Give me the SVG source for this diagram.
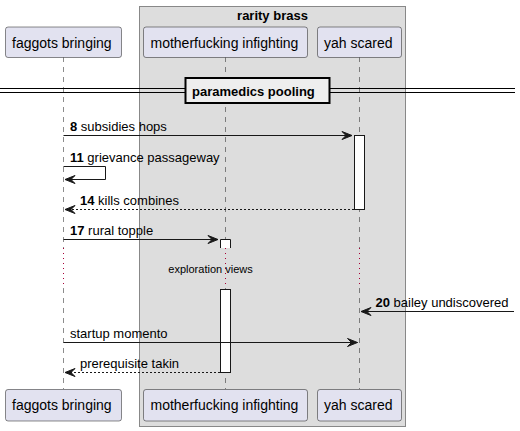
<svg xmlns="http://www.w3.org/2000/svg" width="520" height="431" viewBox="0 0 520 431">
<defs>
<style>
.part{fill:#E2E2F0;stroke:#181818;stroke-width:0.5}
.pt{font-family:"Liberation Sans",Arial,sans-serif;font-size:14px;fill:#000}
.msg{font-family:"Liberation Sans",Arial,sans-serif;font-size:13px;fill:#000}
.b{font-weight:bold}
.ll{stroke:#181818;stroke-width:0.5;stroke-dasharray:5,5;fill:none}
.dl{stroke:#A80036;stroke-width:1;stroke-dasharray:1,4;fill:none}
.ln{stroke:#181818;stroke-width:1;fill:none}
.dash{stroke:#181818;stroke-width:1;stroke-dasharray:2,2;fill:none}
.ah{fill:#181818;stroke:#181818;stroke-width:1}
.act{fill:#FFFFFF;stroke:#181818;stroke-width:1}
</style>
</defs>
<rect width="520" height="431" fill="#FFFFFF"/>
<g id="box-rarity-brass">
<rect x="139.5" y="6.5" width="266" height="420" fill="#DDDDDD" stroke="#888888" stroke-width="1"/>
<text x="272.5" y="19.5" text-anchor="middle" class="msg b">rarity brass</text>
</g>
<g id="lifelines">
<line class="ll" x1="63.5" y1="57" x2="63.5" y2="248"/>
<line class="dl" x1="63.5" y1="248" x2="63.5" y2="288"/>
<line class="ll" x1="63.5" y1="288" x2="63.5" y2="389"/>
<line class="ll" x1="225.5" y1="57" x2="225.5" y2="248"/>
<line class="dl" x1="225.5" y1="248" x2="225.5" y2="288"/>
<line class="ll" x1="225.5" y1="288" x2="225.5" y2="389"/>
<line class="ll" x1="359.5" y1="57" x2="359.5" y2="248"/>
<line class="dl" x1="359.5" y1="248" x2="359.5" y2="288"/>
<line class="ll" x1="359.5" y1="288" x2="359.5" y2="389"/>
</g>
<g id="divider">
<line x1="0" y1="88.5" x2="515" y2="88.5" stroke="#000" stroke-width="1"/>
<line x1="0" y1="92.5" x2="515" y2="92.5" stroke="#000" stroke-width="1"/>
<rect x="185.5" y="78" width="144" height="25" fill="#EEEEEE" stroke="#000" stroke-width="2"/>
<text x="192" y="96" class="msg b">paramedics pooling</text>
</g>
<g id="activations">
<rect class="act" x="354.5" y="135.5" width="10" height="74"/>
<path d="M220.5,248 V239.5 H230.5 V248" class="act"/>
<rect class="act" x="220.5" y="289.5" width="10" height="83"/>
</g>
<g id="p-faggots-bringing">
<rect class="part" x="5.5" y="27" width="116" height="30.5" rx="2.5"/>
<text class="pt" x="12" y="47.5">faggots bringing</text>
<rect class="part" x="5.5" y="389.5" width="116" height="31.5" rx="2.5"/>
<text class="pt" x="12" y="410">faggots bringing</text>
</g>
<g id="p-motherfucking-infighting">
<rect class="part" x="143.5" y="27" width="164" height="30.5" rx="2.5"/>
<text class="pt" x="150.5" y="47.5">motherfucking infighting</text>
<rect class="part" x="143.5" y="389.5" width="164" height="31.5" rx="2.5"/>
<text class="pt" x="150.5" y="410">motherfucking infighting</text>
</g>
<g id="p-yah-scared">
<rect class="part" x="317.5" y="27" width="84" height="30.5" rx="2.5"/>
<text class="pt" x="324" y="47.5">yah scared</text>
<rect class="part" x="317.5" y="389.5" width="84" height="31.5" rx="2.5"/>
<text class="pt" x="324" y="410">yah scared</text>
</g>
<g id="connectors">
<line class="ln" x1="63.5" y1="135.5" x2="352" y2="135.5"/>
<polygon class="ah" points="342,131.5 352,135.5 342,139.5 346,135.5"/>
<text class="msg" x="70" y="131"><tspan class="b">8</tspan> subsidies hops</text>

<polyline class="ln" points="63.5,166.5 105.5,166.5 105.5,179.5 65,179.5"/>
<polygon class="ah" points="75,175.5 65,179.5 75,183.5 71,179.5"/>
<text class="msg" x="70" y="161.5"><tspan class="b">11</tspan> grievance passageway</text>

<line class="dash" x1="354" y1="209.5" x2="65" y2="209.5"/>
<polygon class="ah" points="75,205.5 65,209.5 75,213.5 71,209.5"/>
<text class="msg" x="80" y="205"><tspan class="b">14</tspan> kills combines</text>

<line class="ln" x1="63.5" y1="239.5" x2="218" y2="239.5"/>
<polygon class="ah" points="208,235.5 218,239.5 208,243.5 212,239.5"/>
<text class="msg" x="70" y="235"><tspan class="b">17</tspan> rural topple</text>

<text x="210.5" y="273" text-anchor="middle" font-family="'Liberation Sans',Arial,sans-serif" font-size="11" fill="#000">exploration views</text>

<line class="ln" x1="514" y1="311.5" x2="361" y2="311.5"/>
<polygon class="ah" points="371,307.5 361,311.5 371,315.5 367,311.5"/>
<text class="msg" x="375.5" y="306.5"><tspan class="b">20</tspan> bailey undiscovered</text>

<line class="ln" x1="63.5" y1="342.5" x2="357.5" y2="342.5"/>
<polygon class="ah" points="347.5,338.5 357.5,342.5 347.5,346.5 351.5,342.5"/>
<text class="msg" x="70" y="338">startup momento</text>

<line class="dash" x1="220" y1="372.5" x2="65" y2="372.5"/>
<polygon class="ah" points="75,368.5 65,372.5 75,376.5 71,372.5"/>
<text class="msg" x="80" y="368">prerequisite takin</text>
</g>
</svg>
